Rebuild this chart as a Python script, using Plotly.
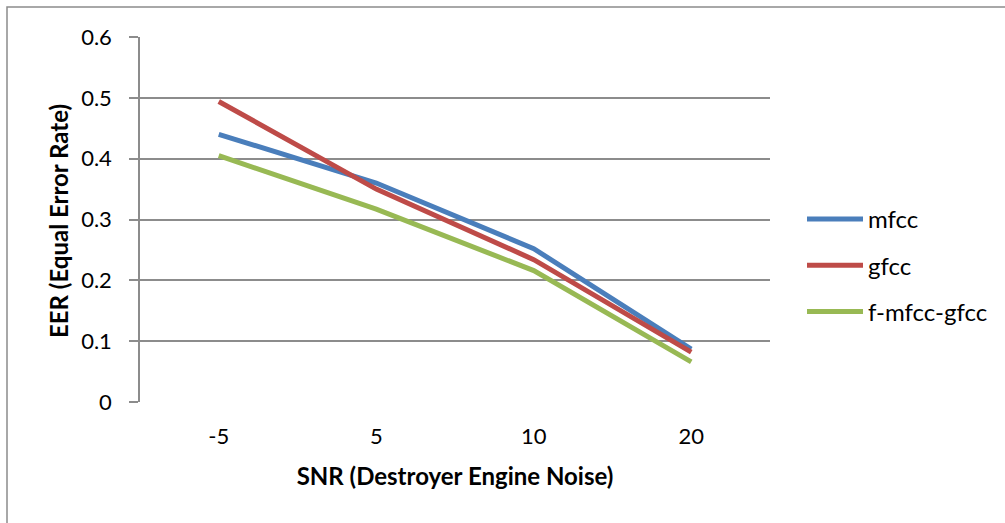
import plotly.graph_objects as go

# SNR conditions (category axis) and equal error rate per feature set
snr_labels = ["-5", "5", "10", "20"]
eer_mfcc = [0.44, 0.36, 0.252, 0.087]
eer_gfcc = [0.494, 0.35, 0.234, 0.082]
eer_fused = [0.405, 0.317, 0.216, 0.066]

series_names = ["mfcc", "gfcc", "f-mfcc-gfcc"]
series_colors = ["#4A7EBB", "#BE4B48", "#98B954"]

y_ticks = [0, 0.1, 0.2, 0.3, 0.4, 0.5, 0.6]
y_tick_text = ["0", "0.1", "0.2", "0.3", "0.4", "0.5", "0.6"]

FONT = "Lato, 'Open Sans', sans-serif"
GRID = "#8C8C8C"
FS = 24      # titles and legend
FS_TICK = 22  # tick labels

fig = go.Figure()
for name, vals, color in zip(series_names, [eer_mfcc, eer_gfcc, eer_fused], series_colors):
    fig.add_trace(go.Scatter(
        x=snr_labels, y=vals, name=name, mode="lines",
        line=dict(color=color, width=5),
        legendgroup=name,
    ))

W, H = 1005, 523
L, R, T, B = 140, 235, 37, 121
pw, ph = W - L - R, H - T - B

def px_x(v):
    return (v - L) / pw

def px_y(v):
    return (H - B - v) / ph

fig.update_layout(
    width=W, height=H,
    margin=dict(l=L, r=R, t=T, b=B, pad=0),
    paper_bgcolor="white", plot_bgcolor="white",
    font=dict(family=FONT, size=FS, color="#000000"),
    showlegend=True,
    legend=dict(
        x=px_x(802), y=px_y(197), xanchor="left", yanchor="top",
        bgcolor="rgba(0,0,0,0)", font=dict(size=FS),
        tracegroupgap=12, itemwidth=56,
    ),
    xaxis=dict(
        type="category", range=[-0.5, 3.5],
        showline=False, showgrid=False, zeroline=False,
        ticks="", ticklabelstandoff=19,
        tickfont=dict(size=FS_TICK),
        title=dict(text="<b>SNR (Destroyer Engine Noise)</b>", font=dict(size=FS), standoff=20),
    ),
    yaxis=dict(
        range=[0, 0.6], tickvals=y_ticks, ticktext=y_tick_text,
        showgrid=True, gridcolor=GRID, gridwidth=1.5,
        showline=True, linecolor=GRID, linewidth=1.5,
        zeroline=False,
        ticks="outside", ticklen=9, tickcolor=GRID, tickwidth=1.5,
        ticklabelstandoff=13,
        tickfont=dict(size=FS_TICK),
    ),
)

# vertical axis title
fig.add_annotation(
    text="<b>EER (Equal Error Rate)</b>", textangle=-90,
    xref="paper", yref="paper", x=px_x(59), y=px_y(221),
    xanchor="center", yanchor="middle", showarrow=False,
    font=dict(size=FS),
)

# outer chart border (only top and left edges fall inside the page)
fig.add_shape(
    type="rect", xref="paper", yref="paper",
    x0=px_x(7), x1=px_x(1015), y0=px_y(535), y1=px_y(7),
    line=dict(color="#8C8C8C", width=1.5), fillcolor="rgba(0,0,0,0)", layer="below",
)

fig.write_html("out.html")
